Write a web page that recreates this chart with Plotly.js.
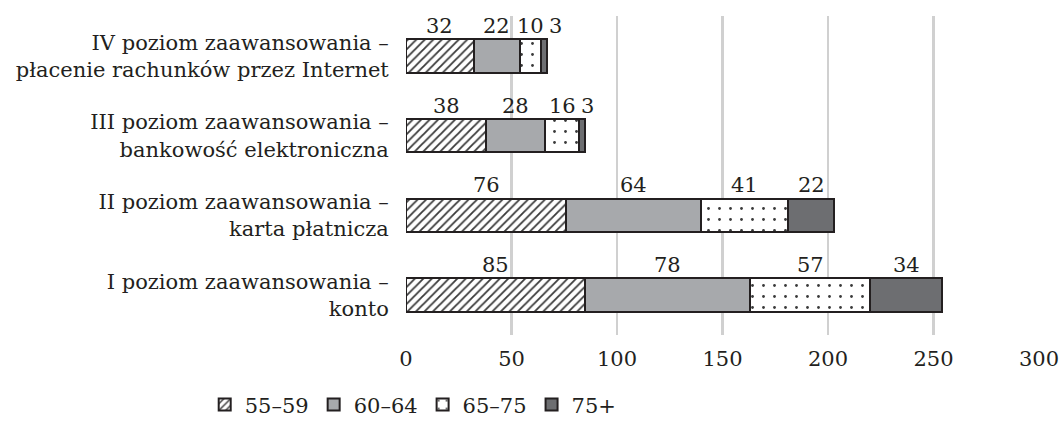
<!DOCTYPE html>
<html>
<head>
<meta charset="utf-8">
<script src="https://cdn.plot.ly/plotly-3.0.1.min.js"></script>
<style>html,body{margin:0;padding:0;background:#fff;}#chart{width:1060px;height:432px;}</style>
</head>
<body>
<div id="chart"></div>
<script>
const categories = [
  "I poziom zaawansowania –<br>konto",
  "II poziom zaawansowania –<br>karta płatnicza",
  "III poziom zaawansowania –<br>bankowość elektroniczna",
  "IV poziom zaawansowania –<br>płacenie rachunków przez Internet"
];
const seriesNames = ["55–59", "60–64", "65–75", "75+"];
const s55_59 = [85, 76, 38, 32];
const s60_64 = [78, 64, 28, 22];
const s65_75 = [57, 41, 16, 10];
const s75plus = [34, 22, 3, 3];
const xTicks = [0, 50, 100, 150, 200, 250, 300];

const seriesValues = [s55_59, s60_64, s65_75, s75plus];
const fills = [
  {color: "#ffffff", pattern: {shape: "/", fgcolor: "#3a3a3a", bgcolor: "#ffffff", size: 6, solidity: 0.3}},
  {color: "#a7a9ac"},
  {color: "#ffffff", pattern: {shape: ".", fgcolor: "#3a3a3a", bgcolor: "#ffffff", size: 11, solidity: 0.05}},
  {color: "#6d6e71"}
];

const FONT = "DejaVu Serif, serif";
const FS = 21;
const traces = seriesValues.map((vals, i) => ({
  type: "bar",
  orientation: "h",
  name: seriesNames[i],
  y: categories,
  x: vals,
  marker: Object.assign({}, fills[i], {line: {color: "#231f20", width: 2}}),
  hoverinfo: "none"
}));

// data labels centred on each segment, nudged right when they would collide
const pxPerUnit = 633 / 300;
const charPx = 13;
const annotations = [];
categories.forEach((cat, ci) => {
  let cum = 0;
  let prevX = -Infinity, prevLen = 0;
  seriesValues.forEach((vals) => {
    const v = vals[ci];
    const len = String(v).length;
    let cx = cum + v / 2;
    const need = (prevLen * charPx / 2 + len * charPx / 2 + 6) / pxPerUnit;
    if (cx - prevX < need) cx = prevX + need;
    annotations.push({
      x: cx, y: ci, xref: "x", yref: "y",
      text: String(v), showarrow: false,
      yshift: 30, xanchor: "center", yanchor: "middle",
      font: {family: FONT, size: FS, color: "#231f20"}
    });
    prevX = cx; prevLen = len;
    cum += v;
  });
});

const layout = {
  width: 1060, height: 432,
  margin: {l: 406, r: 21, t: 16, b: 97, autoexpand: false},
  barmode: "stack",
  bargap: 0.58,
  paper_bgcolor: "#ffffff",
  plot_bgcolor: "#ffffff",
  font: {family: FONT, size: FS, color: "#231f20"},
  showlegend: true,
  legend: {
    orientation: "h", x: -0.318, xanchor: "left", y: -0.155, yanchor: "top",
    font: {family: FONT, size: FS, color: "#231f20"},
    traceorder: "normal", itemwidth: 30
  },
  xaxis: {
    range: [0, 300], tickvals: xTicks, ticktext: xTicks.map(String),
    showgrid: true, gridcolor: "#d0d0d0", gridwidth: 2.5,
    zeroline: false, showline: false,
    ticks: "outside", ticklen: 5, tickcolor: "rgba(0,0,0,0)",
    tickfont: {family: FONT, size: FS, color: "#231f20"}
  },
  yaxis: {
    type: "category", categoryorder: "array", categoryarray: categories,
    range: [-0.5, 3.5], showgrid: false, zeroline: false, showline: false,
    ticks: "outside", ticklen: 12, tickcolor: "rgba(0,0,0,0)",
    tickfont: {family: FONT, size: FS, color: "#231f20"}
  },
  annotations: annotations
};

Plotly.newPlot("chart", traces, layout, {staticPlot: true, displayModeBar: false});
</script>
</body>
</html>
